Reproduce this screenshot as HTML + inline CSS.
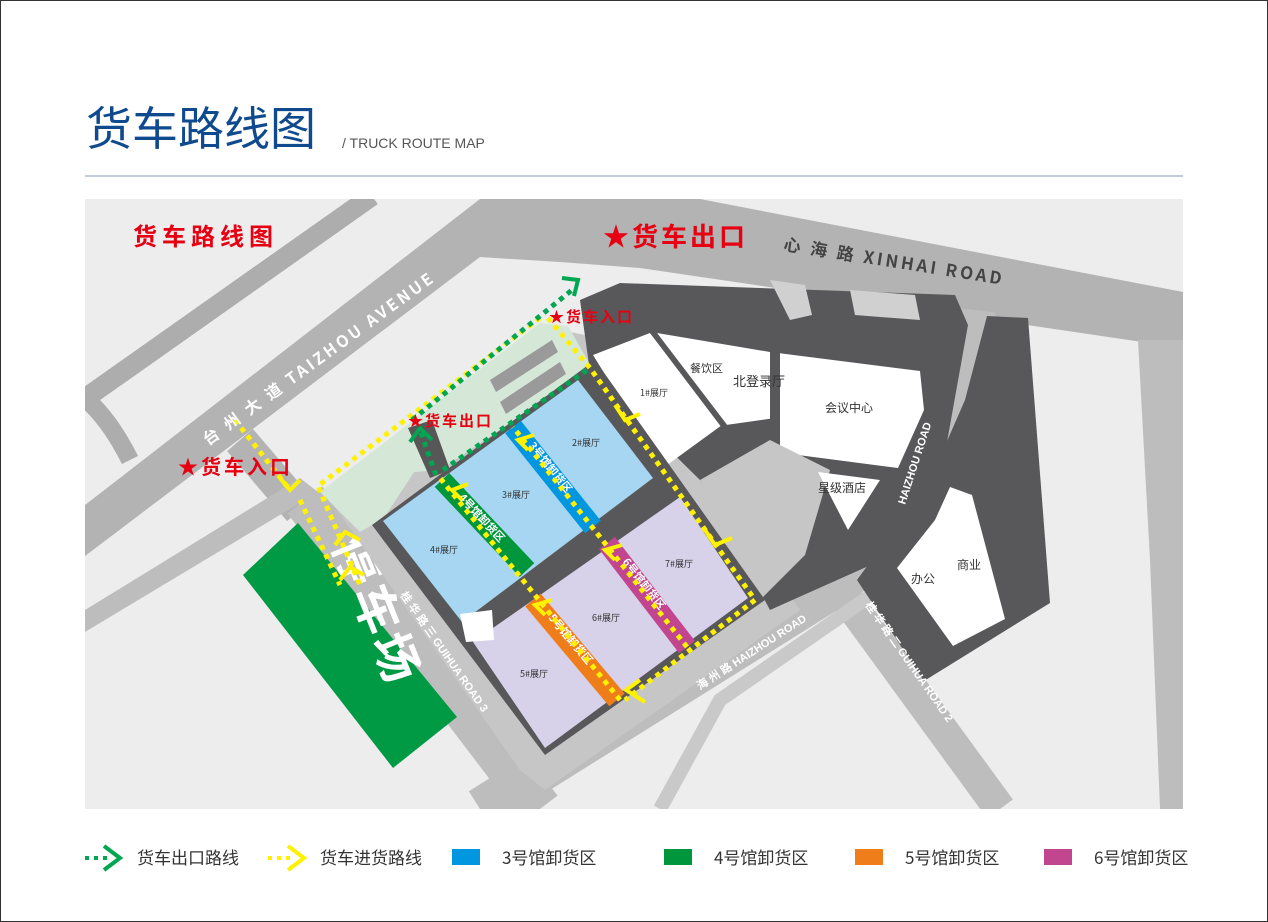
<!DOCTYPE html>
<html><head><meta charset="utf-8"><style>
html,body{margin:0;padding:0;background:#fff}
body{width:1268px;height:922px;overflow:hidden;position:relative;font-family:"Liberation Sans","Noto Sans CJK SC",sans-serif}
</style></head><body>
<svg width="1268" height="922" viewBox="0 0 1268 922" xmlns="http://www.w3.org/2000/svg" style="position:absolute;left:0;top:0">
<rect x="0.5" y="0.5" width="1267" height="921" fill="#fff" stroke="#333" stroke-width="1"/>
<text x="86" y="145" font-size="46" fill="#0f4a8f" font-family="Noto Sans CJK SC, sans-serif">货车路线图</text>
<text x="342" y="148" font-size="14" fill="#555" font-family="Liberation Sans, sans-serif">/ TRUCK ROUTE MAP</text>
<line x1="85" y1="176" x2="1183" y2="176" stroke="#8798b8" stroke-width="1"/>

<defs><clipPath id="mc"><rect x="85" y="199" width="1098" height="610"/></clipPath></defs>
<g clip-path="url(#mc)">
<rect x="85" y="199" width="1098" height="610" fill="#ededed"/>
<!-- roads -->
<line x1="80" y1="402" x2="372" y2="196" stroke="#adadad" stroke-width="20"/>
<path d="M85 398 Q110 420 130 460" fill="none" stroke="#adadad" stroke-width="18"/>
<polygon points="85,505 480,199 700,199 1183,292 1183,348 640,268 560,262 480,257 85,556" fill="#b3b3b3"/>
<path d="M240 440 L300 510" fill="none" stroke="#b3b3b3" stroke-width="34"/>
<polygon points="85,610 300,478 318,492 85,632" fill="#bdbdbd"/>
<polygon points="1138,340 1183,340 1183,809 1160,809 1150,560" fill="#bdbdbd"/>
<path d="M480 809 L830 590 Q950 510 975 310" fill="none" stroke="#bdbdbd" stroke-width="42"/>
<path d="M840 590 L1000 809" fill="none" stroke="#bdbdbd" stroke-width="32"/>
<path d="M305 500 L540 809" fill="none" stroke="#bdbdbd" stroke-width="44"/>
<path d="M660 809 L720 700 L980 520" fill="none" stroke="#c9c9c9" stroke-width="14"/>
<!-- parking -->
<polygon points="243,575 298,523 457,717 393,768" fill="#009a44"/>
<text transform="translate(332,545) rotate(68)" font-size="48" font-weight="bold" fill="#fff" font-family="Noto Sans CJK SC, sans-serif" letter-spacing="4">停车场</text>
<!-- plaza & ring -->
<polygon points="330,500 560,330 610,340 800,610 545,790 520,770" fill="#c6c6c6"/>
<polygon points="320,492 540,323 568,326 592,368 440,470 414,472 384,518 360,532" fill="#d5e8d7"/>
<polygon points="490,380 552,340 558,352 496,392" fill="#9a9a9a"/>
<polygon points="500,402 560,362 566,374 506,414" fill="#9a9a9a"/>
<polygon points="408,428 432,420 450,470 430,478" fill="#575757"/>
<!-- right dark region -->
<polygon points="580,300 620,283 955,295 968,325 942,470 882,560 770,610 700,480 590,372" fill="#58585a"/>
<polygon points="593,355 650,333 722,425 663,468" fill="#fff"/>
<polygon points="657,333 770,352 920,371 924,410 898,468 775,452 775,418 726,425" fill="#fff"/>
<polygon points="770,352 780,350 780,460 770,458" fill="#58585a"/>
<polygon points="650,333 657,333 728,426 722,428" fill="#58585a"/>
<polygon points="700,480 770,440 830,470 805,555 760,600" fill="#c6c6c6"/>
<polygon points="818,472 880,480 848,530" fill="#fff"/>
<polygon points="770,280 805,285 812,315 790,320" fill="#d0d0d0"/>
<polygon points="850,290 915,295 920,320 855,315" fill="#d0d0d0"/>
<polygon points="987,316 1028,318 1050,603 924,681 857,580 930,480 965,400" fill="#58585a"/>
<polygon points="950,487 972,495 1005,619 953,646 897,568 935,520" fill="#fff"/>
<!-- complex -->
<polygon points="372,525 595,360 765,600 545,755" fill="#58585a"/>
<polygon points="383,521 578,380 653,478 462,622" fill="#a6d6f1"/>
<polygon points="473,642 680,497 748,598 545,748" fill="#d7d1e9"/>
<polygon points="460,614 492,610 494,640 466,642" fill="#fff"/>
<!-- strips -->
<g stroke-linecap="butt" fill="none">
<line x1="513" y1="427" x2="593" y2="527" stroke="#0096e0" stroke-width="20"/>
<line x1="442" y1="480" x2="527" y2="570" stroke="#00963c" stroke-width="20"/>
<line x1="607" y1="543" x2="687" y2="647" stroke="#c2458f" stroke-width="20"/>
<line x1="533" y1="600" x2="617" y2="700" stroke="#ee7d1a" stroke-width="20"/>
</g>
<g font-size="11" fill="#fff" font-weight="bold" font-family="Noto Sans CJK SC, sans-serif">
<text transform="translate(528,446) rotate(51)">3号馆卸货区</text>
<text transform="translate(458,498) rotate(47)">4号馆卸货区</text>
<text transform="translate(622,562) rotate(52)">6号馆卸货区</text>
<text transform="translate(548,618) rotate(50)">5号馆卸货区</text>
</g>
<!-- routes -->
<g fill="none" stroke-width="5" stroke-dasharray="5 5">
<path d="M540 318 L318 486 L360 585" stroke="#fff200"/>
<path d="M300 500 L340 585" stroke="#fff200"/>
<path d="M235 420 L290 490" stroke="#fff200"/>
<path d="M548 318 L590 368 L755 600 L625 700" stroke="#fff200"/>
<path d="M620 700 L440 478" stroke="#fff200"/>
<path d="M687 647 L513 427" stroke="#fff200"/>
<path d="M412 420 L572 290" stroke="#00a651"/>
<path d="M443 470 L590 368" stroke="#00a651"/>
<path d="M436 475 L420 430" stroke="#00a651"/>
</g>
<g fill="none" stroke="#fff200" stroke-width="4">
<path d="M615 405 L625 420 L640 414"/><path d="M705 530 L715 545 L732 538"/>
<path d="M640 680 L626 690 L645 702"/><path d="M280 478 L290 490 L300 480"/>
<path d="M335 545 L345 532 L360 540"/><path d="M340 580 L350 567 L364 575"/>
<path d="M528 450 L518 440 L534 435"/><path d="M462 500 L452 490 L468 484"/>
<path d="M615 560 L605 550 L622 545"/><path d="M545 615 L535 605 L552 600"/>
</g>
<path d="M562 278 L578 280 L574 296" fill="none" stroke="#00a651" stroke-width="4"/>
<path d="M410 442 L420 428 L432 440" fill="none" stroke="#00a651" stroke-width="4"/>
<!-- labels -->
<g fill="#e60012" font-weight="bold" font-family="Noto Sans CJK SC, sans-serif">
<text x="133" y="245" font-size="24" letter-spacing="5">货车路线图</text>
<text x="603" y="246" font-size="26" letter-spacing="3">★货车出口</text>
<text x="549" y="322" font-size="15" letter-spacing="2">★货车入口</text>
<text x="408" y="426" font-size="15" letter-spacing="2">★货车出口</text>
<text x="178" y="474" font-size="20" letter-spacing="3">★货车入口</text>
</g>
<g fill="#fff" font-weight="bold" font-family="Noto Sans CJK SC, Liberation Sans, sans-serif">
<text transform="translate(208,446) rotate(-36)" font-size="16" letter-spacing="3">台 州 大 道 TAIZHOU AVENUE</text>
<text transform="translate(783,250) rotate(9)" font-size="17" fill="#444" letter-spacing="3">心  海  路 XINHAI ROAD</text>
</g>
<g fill="#333" font-family="Noto Sans CJK SC, sans-serif" font-size="9">
<text x="640" y="396">1#展厅</text><text x="572" y="446">2#展厅</text><text x="502" y="498">3#展厅</text>
<text x="430" y="553">4#展厅</text><text x="665" y="567">7#展厅</text><text x="592" y="621">6#展厅</text><text x="520" y="677">5#展厅</text>
<text x="690" y="372" font-size="11">餐饮区</text><text x="733" y="386" font-size="13">北登录厅</text>
<text x="825" y="412" font-size="12">会议中心</text><text x="818" y="492" font-size="12">星级酒店</text>
<text x="957" y="569" font-size="12">商业</text><text x="911" y="583" font-size="12">办公</text>
</g>
<g fill="#fff" font-family="Liberation Sans, sans-serif" font-size="11" font-weight="bold">
<text transform="translate(700,690) rotate(-33)">海 州 路 HAIZHOU ROAD</text>
<text transform="translate(400,595) rotate(55)">桂 华 路 三 GUIHUA ROAD 3</text>
<text transform="translate(865,605) rotate(55)">桂 华 路 二 GUIHUA ROAD 2</text>
<text transform="translate(905,505) rotate(-72)">HAIZHOU ROAD</text>
</g>
</g>

<!-- legend -->
<g font-family="Noto Sans CJK SC, sans-serif" font-size="17" fill="#333">
<g fill="#00a651"><rect x="85" y="856" width="4" height="4"/><rect x="94" y="856" width="4" height="4"/><rect x="103" y="856" width="4" height="4"/></g>
<path d="M104 846 L120 858 L104 870" fill="none" stroke="#00a651" stroke-width="4"/>
<text x="137" y="864">货车出口路线</text>
<g fill="#fff200"><rect x="268" y="856" width="4" height="4"/><rect x="277" y="856" width="4" height="4"/><rect x="286" y="856" width="4" height="4"/></g>
<path d="M288 846 L304 858 L288 870" fill="none" stroke="#fff200" stroke-width="4"/>
<text x="320" y="864">货车进货路线</text>
<rect x="452" y="849" width="28" height="16" fill="#0096e0"/><text x="502" y="864">3号馆卸货区</text>
<rect x="664" y="849" width="28" height="16" fill="#00963c"/><text x="714" y="864">4号馆卸货区</text>
<rect x="855" y="849" width="28" height="16" fill="#ee7d1a"/><text x="905" y="864">5号馆卸货区</text>
<rect x="1044" y="849" width="28" height="16" fill="#c2458f"/><text x="1094" y="864">6号馆卸货区</text>
</g>
</svg>
</body></html>
